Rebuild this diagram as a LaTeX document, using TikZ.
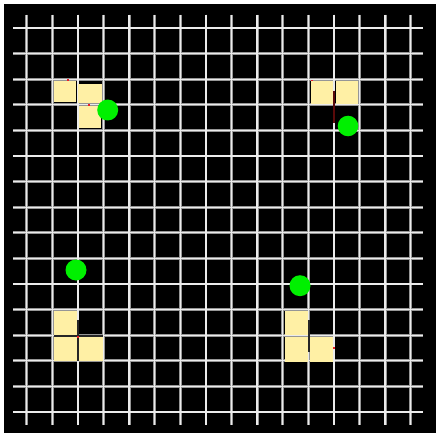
\documentclass[tikz,border=0pt]{standalone}
\usetikzlibrary{calc}
\definecolor{tileyellow}{RGB}{255,240,165}
\definecolor{ballgreen}{RGB}{0,240,0}
\definecolor{gridedge}{RGB}{150,150,150}
\definecolor{gridcore}{RGB}{235,235,235}
\definecolor{markred}{RGB}{230,30,40}
\definecolor{darkbar}{RGB}{90,10,10}
\tikzset{
  tile/.style={fill=tileyellow, draw=none},
  ball/.style={fill=ballgreen, draw=none},
  gridouter/.style={draw=gridedge, line width=2.8pt},
  gridinner/.style={draw=gridcore, line width=1.3pt},
  redmark/.style={fill=markred, draw=none},
  seam/.style={draw=black!85, line width=1.2pt},
  seamred/.style={draw=darkbar, line width=2pt}
}
\begin{document}
\begin{tikzpicture}[x=1pt,y=-1pt]
\useasboundingbox (0,0) rectangle (436,433);
\fill[white] (0,0) rectangle (436,433);
\fill[black] (4,4) rectangle (436,433);
% grid
\foreach \k in {0,...,15}{
  \draw[gridouter] ({26.7+25.6*\k},14.7) -- ({26.7+25.6*\k},425);
  \draw[gridouter] (13.3,{28+25.6*\k}) -- (423,{28+25.6*\k});
}
\foreach \k in {0,...,15}{
  \draw[gridinner] ({26.7+25.6*\k},14.7) -- ({26.7+25.6*\k},425);
  \draw[gridinner] (13.3,{28+25.6*\k}) -- (423,{28+25.6*\k});
}
% top-left group
\fill[tile] (54,80.7) rectangle (76,101.7);
\fill[tile] (78,84) rectangle (101.7,103.3);
\fill[tile] (79,106) rectangle (100.7,127.7);
\fill[redmark] (67.3,78.8) rectangle (69.3,81.2);
\fill[redmark] (88.3,104.1) rectangle (90.3,106.5);
% top-right group
\fill[tile] (311,80.7) rectangle (332.7,104.3);
\fill[tile] (335.7,80.7) rectangle (358.3,104.3);
\draw[seamred] (334.3,90.7) -- (334.3,122.7);
\fill[redmark] (310.5,79.8) rectangle (313,81.5);
% bottom-left group
\fill[tile] (54,311) rectangle (76.7,335);
\fill[tile] (54,336.7) rectangle (76.7,361);
\fill[tile] (79.3,336.7) rectangle (103.3,361);
\draw[seam] (54,335.9) -- (103.3,335.9);
\draw[seam] (78,320) -- (78,361);
\fill[redmark] (77,336) rectangle (79,338);
% bottom-right group
\fill[tile] (284.7,310.7) rectangle (307.7,335);
\fill[tile] (284.7,336.7) rectangle (307.7,361.7);
\fill[tile] (310,336.7) rectangle (333.3,361.7);
\draw[seam] (309,320) -- (309,351.7);
\fill[redmark] (333,347) rectangle (335,349);
% balls
\fill[ball] (107.7,110) circle (10.5);
\fill[ball] (348,126) circle (10.3);
\fill[ball] (76,270) circle (10.5);
\fill[ball] (300,285.7) circle (10.5);
\end{tikzpicture}
\end{document}
